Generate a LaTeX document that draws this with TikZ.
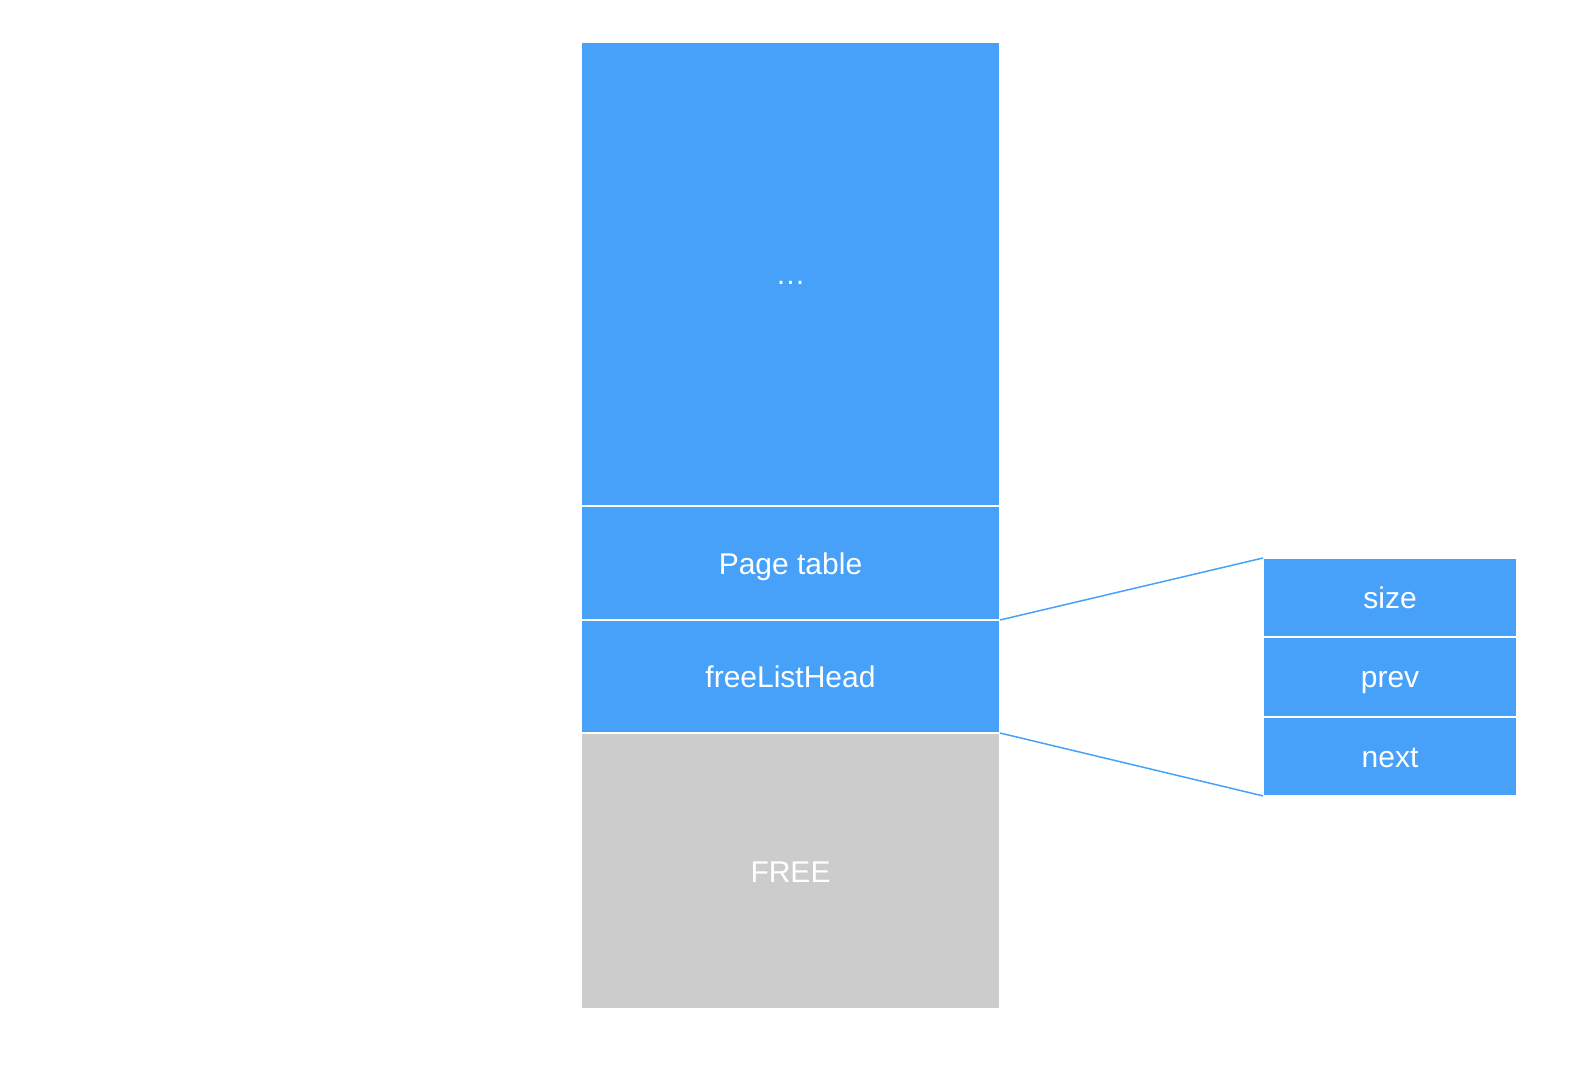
\documentclass[tikz,border=0pt]{standalone}
\usepackage{fontspec}
\setmainfont{Liberation Sans}
\usetikzlibrary{positioning}
\definecolor{memblue}{HTML}{47A1F9}
\definecolor{memgray}{HTML}{CCCCCC}
\tikzset{
  cell/.style={draw=white, line width=2pt, fill=memblue, text=white,
    inner sep=0pt, outer sep=0pt, minimum width=419pt,
    text height=22pt, text depth=0pt,
    font=\fontsize{30}{36}\selectfont},
  field/.style={cell, minimum width=254pt, minimum height=79.3pt},
  zoomline/.style={draw=memblue, line width=1.5pt}
}
\begin{document}
\begin{tikzpicture}[x=1pt,y=-1pt]
  \useasboundingbox (0,0) rectangle (1584,1070);
  % memory layout
  \node[cell, anchor=north west, minimum height=464pt] (rest) at (581,42) {\raisebox{1pt}{\dots}};
  \node[cell, minimum height=114pt, below=0pt of rest] (pagetab) {Page table};
  \node[cell, minimum height=113pt, below=0pt of pagetab] (freehead) {freeListHead};
  \node[cell, fill=memgray, minimum height=276pt, below=0pt of freehead] (freemem) {FREE};
  % list node fields
  \node[field, anchor=north west] (size) at (1263,558) {size};
  \node[field, below=0pt of size] (prev) {prev};
  \node[field, below=0pt of prev] (next) {next};
  \draw[zoomline] (freehead.north east) -- (size.north west);
  \draw[zoomline] (freehead.south east) -- (next.south west);
\end{tikzpicture}
\end{document}
